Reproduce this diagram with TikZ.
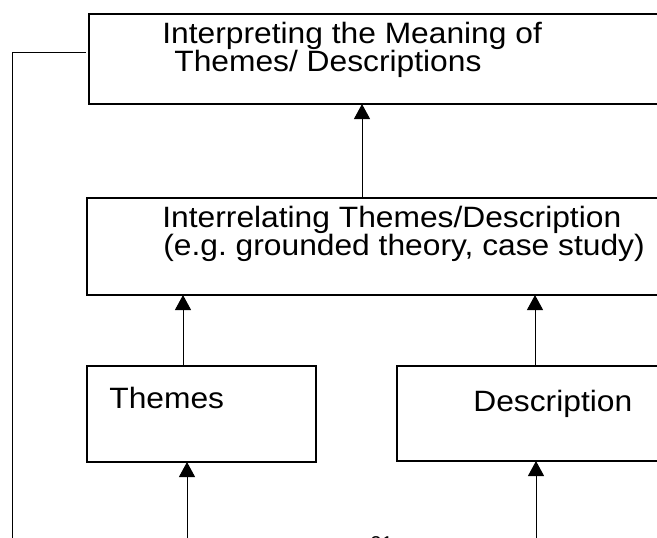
\documentclass[tikz,border=0pt]{standalone}
\usepackage{fontspec}
\setmainfont{Liberation Sans}
\usetikzlibrary{arrows.meta}
\frenchspacing
% the text of the picture is a little wider than it is tall
\newcommand{\widetxt}[1]{\scalebox{1.08}[1]{#1}}

\begin{document}
\begin{tikzpicture}[x=0.5pt, y=-0.5pt, >={Triangle[width=8pt,length=7.5pt]},
    box/.style={draw, line width=0.9pt, inner sep=0pt, outer sep=0pt, anchor=north west},
    txt/.style={anchor=base west, inner sep=0pt, font=\fontsize{14.7}{14}\selectfont},
    link/.style={line width=0.5pt}]

    % page frame, the boxes run past the right edge:
    \useasboundingbox (0,0) rectangle (657,537);
    \clip (0,0) rectangle (657,537);

    % the four boxes:
    \node[box, minimum width=306pt, minimum height=45pt] (interp) at (89,14) {};
    \node[box, minimum width=307pt, minimum height=48.5pt] (inter) at (87,198) {};
    \node[box, minimum width=114.5pt, minimum height=48pt] (themes) at (87,366) {};
    \node[box, minimum width=152pt, minimum height=47.5pt] (desc) at (397,366) {};

    % their texts:
    \node[txt] (interp1) at (162,43) {\widetxt{Interpreting the Meaning of}};
    \node[txt] (interp2) at (174,71) {\widetxt{Themes/ Descriptions}};
    \node[txt] (inter1) at (162,227) {\widetxt{Interrelating Themes/Description}};
    \node[txt] (inter2) at (163,255) {\widetxt{(e.g. grounded theory, case study)}};
    \node[txt] (themestxt) at (109,408) {\widetxt{Themes}};
    \node[txt] (desctxt) at (473,411) {\widetxt{Description}};

    % page number, cut off at the bottom:
    \node[anchor=base west, inner sep=0pt, font=\fontsize{10}{12}\selectfont] (pagenum) at (370,550) {21};

    % columns of the arrows:
    \coordinate (c1) at (362,0);
    \coordinate (c2) at (183,0);
    \coordinate (c3) at (535,0);
    \coordinate (in1) at (187,545);
    \coordinate (in2) at (536,545);

    % arrows going up between the boxes:
    \draw[->, link] (c1 |- inter.north) -- (c1 |- interp.south);
    \draw[->, link] (c2 |- themes.north) -- (c2 |- inter.south);
    \draw[->, link] (c3 |- desc.north) -- (c3 |- inter.south);

    % arrows coming in from below:
    \draw[->, link] (in1) -- (in1 |- themes.south);
    \draw[->, link] (in2) -- (in2 |- desc.south);

    % line on the left going back to the top box:
    \coordinate (fb) at (12,545);
    \coordinate (fbend) at (86,52);
    \draw[link] (fb) |- (fbend);

\end{tikzpicture}
\end{document}
